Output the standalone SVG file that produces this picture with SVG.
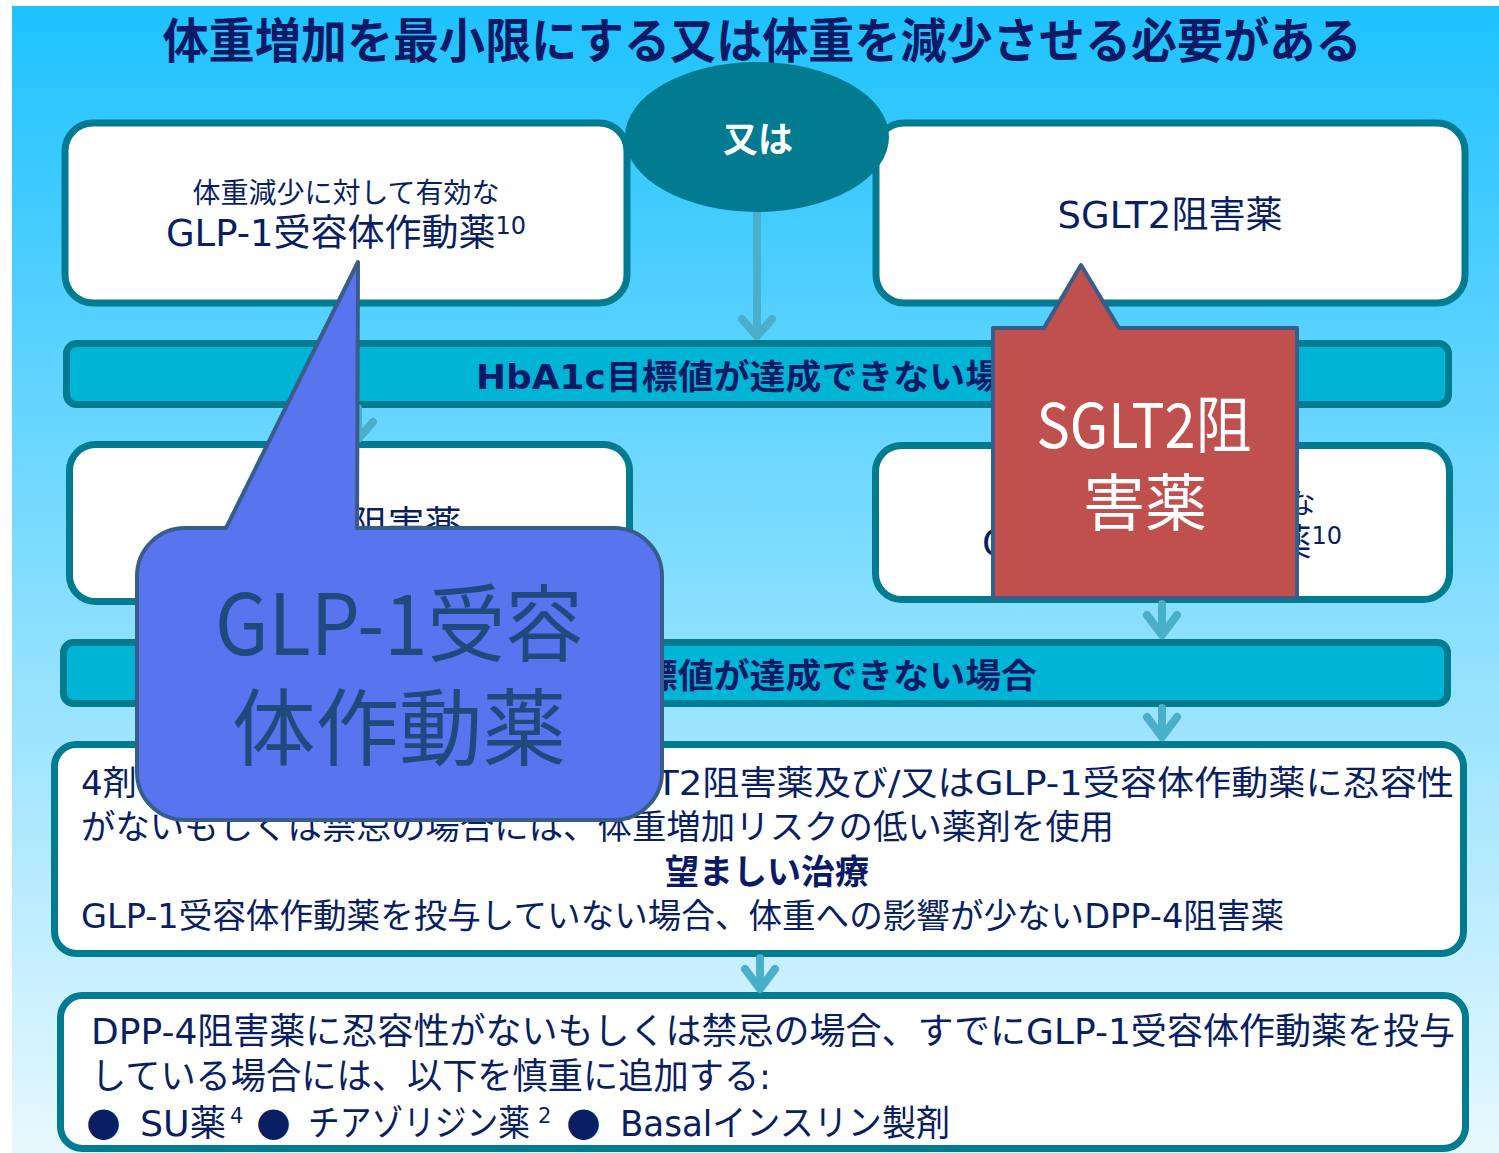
<svg xmlns="http://www.w3.org/2000/svg" width="1499" height="1153" viewBox="0 0 1499 1153">
  <defs>
    <linearGradient id="bg" x1="0" y1="0" x2="0" y2="1">
      <stop offset="0" stop-color="#1EC2FF"/>
      <stop offset="1" stop-color="#E8F8FF"/>
    </linearGradient>
    <style>
      .box { fill: #FFFFFF; stroke: #007B8F; stroke-width: 7; }
      .bar { fill: #00B4D5; stroke: #007B8F; stroke-width: 7; }
      .t { font-family: "DejaVu Sans", "Noto Sans CJK JP", sans-serif; fill: #0A1F63; }
      .tb { font-family: "DejaVu Sans", "Noto Sans CJK JP", sans-serif; font-weight: bold; fill: #0A1A66; }
      .conn { fill: none; stroke: #4AAFC8; stroke-width: 8; stroke-linecap: round; stroke-linejoin: round; }
      .callout { stroke: #385D8A; stroke-width: 4; stroke-linejoin: round; }
    </style>
  </defs>

  <rect x="12" y="6" width="1487" height="1147" fill="url(#bg)"/>

  <g id="title">
    <text x="762" y="58" text-anchor="middle" font-size="48" font-weight="bold" fill="#0A1A66" font-family="'Noto Sans CJK JP', sans-serif" textLength="1199" lengthAdjust="spacingAndGlyphs">体重増加を最小限にする又は体重を減少させる必要がある</text>
  </g>

  <g id="node-glp1-top">
    <rect class="box" x="65" y="123" width="562" height="180" rx="28"/>
    <text class="t" x="346" y="203" text-anchor="middle" font-size="28">体重減少に対して有効な</text>
    <text class="t" x="346" y="246" text-anchor="middle" font-size="37">GLP-1受容体作動薬<tspan font-size="24" dy="-12">10</tspan></text>
  </g>

  <g id="node-sglt2-top">
    <rect class="box" x="876" y="123" width="589" height="180" rx="28"/>
    <text class="t" x="1170" y="228" text-anchor="middle" font-size="37">SGLT2阻害薬</text>
  </g>

  <g id="node-hba1c-1">
    <rect class="bar" x="66.5" y="343.5" width="1382" height="61" rx="10"/>
    <text class="tb" x="476" y="389" font-size="34" textLength="561" lengthAdjust="spacingAndGlyphs">HbA1c目標値が達成できない場合</text>
  </g>

  <g id="node-sglt2-mid">
    <rect class="box" x="69.5" y="444.5" width="560" height="157" rx="26"/>
    <text class="t" x="349" y="538" text-anchor="middle" font-size="37">SGLT2阻害薬</text>
  </g>

  <g id="node-glp1-mid">
    <rect class="box" x="875.5" y="445.5" width="574" height="154" rx="26"/>
    <text class="t" x="1162" y="514" text-anchor="middle" font-size="28">体重減少に対して有効な</text>
    <text class="t" x="1162" y="556" text-anchor="middle" font-size="37">GLP-1受容体作動薬<tspan font-size="24" dy="-12">10</tspan></text>
  </g>

  <g id="node-hba1c-2">
    <rect class="bar" x="63.5" y="642.5" width="1384" height="61" rx="10"/>
    <text class="tb" x="476" y="688" font-size="34" textLength="561" lengthAdjust="spacingAndGlyphs">HbA1c目標値が達成できない場合</text>
  </g>

  <g id="node-fourth">
    <rect class="box" x="54.5" y="744.5" width="1409" height="209" rx="22"/>
    <text class="t" x="81" y="795" font-size="34">4剤</text>
    <text class="t" x="656" y="795" font-size="34" textLength="798" lengthAdjust="spacingAndGlyphs">T2阻害薬及び/又はGLP-1受容体作動薬に忍容性</text>
    <text class="t" x="81" y="839" font-size="34" textLength="1033" lengthAdjust="spacingAndGlyphs">がないもしくは禁忌の場合には、体重増加リスクの低い薬剤を使用</text>
    <text class="tb" x="767" y="884" text-anchor="middle" font-size="34">望ましい治療</text>
    <text class="t" x="81" y="928" font-size="34" textLength="1203" lengthAdjust="spacingAndGlyphs">GLP-1受容体作動薬を投与していない場合、体重への影響が少ないDPP-4阻害薬</text>
  </g>

  <g id="node-dpp4-intolerant">
    <rect class="box" x="60.5" y="995.5" width="1405" height="153" rx="22"/>
    <text class="t" x="91" y="1044" font-size="36" textLength="1364" lengthAdjust="spacingAndGlyphs">DPP-4阻害薬に忍容性がないもしくは禁忌の場合、すでにGLP-1受容体作動薬を投与</text>
    <text class="t" x="91" y="1089" font-size="36" textLength="680" lengthAdjust="spacingAndGlyphs">している場合には、以下を慎重に追加する:</text>
    <text class="t" x="86" y="1135" font-size="40" font-family="'Noto Sans CJK JP', sans-serif">●</text>
    <text class="t" x="140" y="1136" font-size="36" textLength="86" lengthAdjust="spacingAndGlyphs">SU薬</text>
    <text class="t" x="230" y="1123" font-size="21">4</text>
    <text class="t" x="256" y="1135" font-size="40" font-family="'Noto Sans CJK JP', sans-serif">●</text>
    <text class="t" x="308" y="1136" font-size="36" textLength="222" lengthAdjust="spacingAndGlyphs">チアゾリジン薬</text>
    <text class="t" x="538" y="1123" font-size="21">2</text>
    <text class="t" x="566" y="1135" font-size="40" font-family="'Noto Sans CJK JP', sans-serif">●</text>
    <text class="t" x="620" y="1136" font-size="36" textLength="330" lengthAdjust="spacingAndGlyphs">Basalインスリン製剤</text>
  </g>

  <g id="connectors">
    <path class="conn" d="M757 212 V336 M742 319 L757 336 L772 319"/>
    <path class="conn" d="M358 408 V439 M343 422 L358 439 L373 422"/>
    <path class="conn" d="M1162 408 V440 M1147 423 L1162 440 L1177 423"/>
    <path class="conn" d="M358 605 V637 M343 620 L358 637 L373 620"/>
    <path class="conn" d="M1162 604 V635 M1147 615 L1162 635 L1177 615"/>
    <path class="conn" d="M1162 708 V737 M1147 717 L1162 737 L1177 717"/>
    <path class="conn" d="M760 958 V989 M745 969 L760 989 L775 969"/>
  </g>

  <g id="node-or">
    <ellipse cx="757" cy="137" rx="132" ry="75" fill="#007B8F"/>
    <text x="758" y="152" text-anchor="middle" font-size="35" font-weight="bold" fill="#FFFFFF" font-family="'Noto Sans CJK JP', sans-serif">又は</text>
  </g>

  <g id="callout-glp1">
    <path class="callout" fill="#5874EF" d="M185 528 L226 528 L358 262 L357 528 L614 528 A48 48 0 0 1 662 576 L662 772 A48 48 0 0 1 614 820 L185 820 A48 48 0 0 1 137 772 L137 576 A48 48 0 0 1 185 528 Z"/>
    <text x="399" y="655" text-anchor="middle" font-size="84" fill="#1F4A7E" font-family="'Noto Sans CJK JP', sans-serif" textLength="368" lengthAdjust="spacingAndGlyphs">GLP-1受容</text>
    <text x="399" y="759" text-anchor="middle" font-size="84" fill="#1F4A7E" font-family="'Noto Sans CJK JP', sans-serif" textLength="334" lengthAdjust="spacingAndGlyphs">体作動薬</text>
  </g>

  <g id="callout-sglt2">
    <path class="callout" fill="#C0504D" d="M993 328 L1044 328 L1081 265 L1119 328 L1297 328 L1297 598 L993 598 Z"/>
    <text x="1144" y="448" text-anchor="middle" font-size="62" fill="#FFFFFF" font-family="'Noto Sans CJK JP', sans-serif" textLength="215" lengthAdjust="spacingAndGlyphs">SGLT2阻</text>
    <text x="1145" y="526" text-anchor="middle" font-size="62" fill="#FFFFFF" font-family="'Noto Sans CJK JP', sans-serif">害薬</text>
  </g>
</svg>
